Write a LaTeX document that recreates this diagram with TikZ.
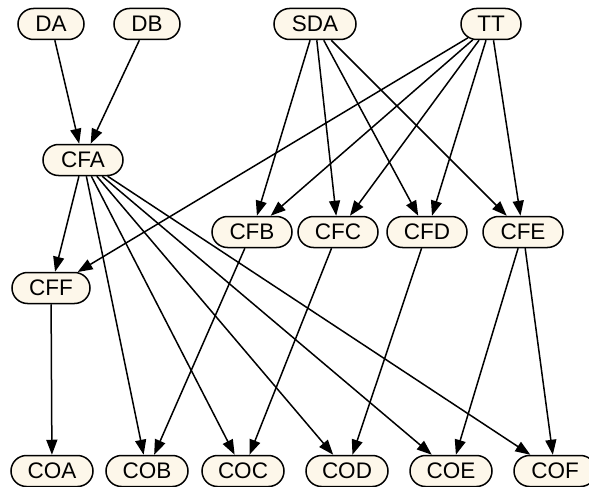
\documentclass[tikz,border=0pt]{standalone}
\usepackage{fontspec}
\setmainfont{Liberation Sans}
\usetikzlibrary{shapes.misc,arrows.meta}
\definecolor{nodefill}{HTML}{FDF7EA}
\begin{document}
\begin{tikzpicture}[x=1pt,y=-1pt,
  dnode/.style={rounded rectangle, draw=black, line width=1.5pt, fill=nodefill,
    minimum height=31pt, inner sep=0pt, font=\fontsize{22.5}{25}\selectfont},
  link/.style={draw=black, line width=1.5pt, -{Triangle[length=15pt,width=11pt]}}]
\useasboundingbox (0,0) rectangle (589,487);
\clip (0,0) rectangle (589,487);
\fill[white] (0,0) rectangle (589,487);
% source row
\node[dnode, minimum width=66pt] (DA)  at (51,24)  {DA};
\node[dnode, minimum width=66pt] (DB)  at (147,24) {DB};
\node[dnode, minimum width=82pt] (SDA) at (315,24) {SDA};
\node[dnode, minimum width=60pt] (TT)  at (491,24) {TT};
% intermediate rows
\node[dnode, minimum width=80pt] (CFA) at (83,160)  {CFA};
\node[dnode, minimum width=80pt] (CFB) at (252,232) {CFB};
\node[dnode, minimum width=80pt] (CFC) at (338,232) {CFC};
\node[dnode, minimum width=80pt] (CFD) at (427,232) {CFD};
\node[dnode, minimum width=80pt] (CFE) at (523,232) {CFE};
\node[dnode, minimum width=78pt] (CFF) at (51,288)  {CFF};
% output row
\node[dnode, minimum width=82pt] (COA) at (52,471)  {COA};
\node[dnode, minimum width=82pt] (COB) at (147,471) {COB};
\node[dnode, minimum width=82pt] (COC) at (243,471) {COC};
\node[dnode, minimum width=82pt] (COD) at (347,471) {COD};
\node[dnode, minimum width=82pt] (COE) at (451,471) {COE};
\node[dnode, minimum width=82pt] (COF) at (555,471) {COF};
% connectors
\foreach \s/\t in {DA/CFA, DB/CFA,
    SDA/CFB, SDA/CFC, SDA/CFD, SDA/CFE,
    TT/CFF, TT/CFB, TT/CFC, TT/CFD, TT/CFE,
    CFA/CFF, CFA/COB, CFA/COC, CFA/COD, CFA/COE, CFA/COF,
    CFB/COB, CFC/COC, CFD/COD, CFE/COE, CFE/COF, CFF/COA}
  \draw[link] (\s) -- (\t);
\end{tikzpicture}
\end{document}
